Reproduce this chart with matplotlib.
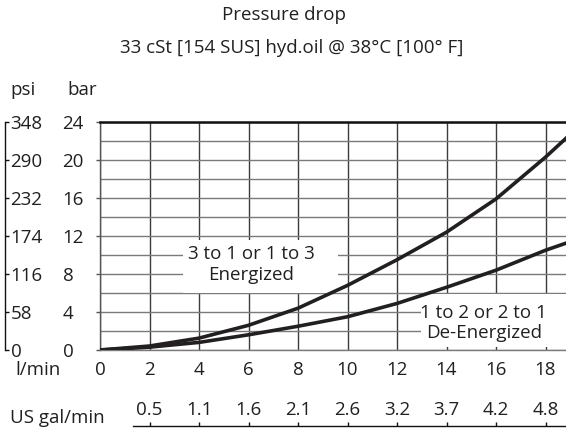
import numpy as np
import matplotlib
matplotlib.use('Agg')
import matplotlib.pyplot as plt
from matplotlib.patches import Rectangle

plt.rcParams['font.family'] = ['Open Sans', 'DejaVu Sans']

# 数据 (l/min -> bar)
flow = [0, 2, 4, 6, 8, 10, 12, 14, 16, 18, 19]
energized = [0, 0.42, 1.25, 2.6, 4.4, 6.8, 9.5, 12.4, 15.9, 20.3, 22.7]
de_energized = [0, 0.3, 0.8, 1.6, 2.5, 3.5, 4.9, 6.6, 8.4, 10.5, 11.4]

flow_ticks = [0, 2, 4, 6, 8, 10, 12, 14, 16, 18]
bar_ticks = [0, 4, 8, 12, 16, 20, 24]
psi_ticks = [0, 58, 116, 174, 232, 290, 348]
gal_pos = [2, 4, 6, 8, 10, 12, 14, 16, 18]
gal_labels = ['0.5', '1.1', '1.6', '2.1', '2.6', '3.2', '3.7', '4.2', '4.8']

W, H = 566, 430
txt = '#231f20'
fs = 13.5
xmax = (566 - 100) / 24.75


def fx(px):
    return px / W


def fy(py):
    return 1 - py / H


fig = plt.figure(figsize=(W / 100, H / 100), dpi=100)

# 主图
ax = fig.add_axes([fx(100), fy(350), fx(466), 228 / H])
ax.set_xlim(0, xmax)
ax.set_ylim(0, 24)
ax.set_axisbelow(True)

ax.set_xticks(flow_ticks)
ax.set_xticklabels([str(v) for v in flow_ticks])
ax.set_yticks(bar_ticks)
ax.set_yticklabels([str(v) for v in bar_ticks])
ax.set_yticks(np.arange(0, 25, 2), minor=True)
ax.tick_params(axis='x', length=0, pad=8, labelsize=fs, labelcolor=txt)
ax.tick_params(axis='y', which='major', length=3, width=1, color='#555555',
               pad=24, labelsize=fs, labelcolor=txt)
ax.tick_params(axis='y', which='minor', length=0)
for lbl in ax.get_yticklabels():
    lbl.set_ha('left')

ax.xaxis.grid(True, color='#3c3c3c', lw=1.0)
ax.yaxis.grid(True, which='both', color='#7a7a7a', lw=1.0)

ax.spines['right'].set_visible(False)
ax.spines['top'].set_color('#111111')
ax.spines['top'].set_linewidth(1.8)
ax.spines['left'].set_color('#555555')
ax.spines['left'].set_linewidth(1.0)
ax.spines['bottom'].set_color('#7a7a7a')
ax.spines['bottom'].set_linewidth(1.0)

# 标注底色
ax.add_patch(Rectangle((3.35, 5.95), 6.25, 5.65, fc='white', ec='none', zorder=2))
ax.add_patch(Rectangle((12.97, 0.3), 7.0, 5.6, fc='white', ec='none', zorder=2))

ax.plot(flow, energized, color=txt, lw=2.6, zorder=4, solid_capstyle='round')
ax.plot(flow, de_energized, color=txt, lw=2.6, zorder=4, solid_capstyle='round')

ax.text(6.1, 9.0, '3 to 1 or 1 to 3\nEnergized', ha='center', va='center',
        fontsize=fs, color=txt, linespacing=1.15, zorder=5)
ax.text(15.5, 2.85, '1 to 2 or 2 to 1\nDe-Energized', ha='center', va='center',
        fontsize=fs, color=txt, linespacing=1.15, zorder=5)

# psi 轴
axp = fig.add_axes([fx(5), fy(350), 0.0001, 228 / H])
axp.set_ylim(0, 348)
axp.set_yticks(psi_ticks)
axp.set_yticklabels([str(v) for v in psi_ticks])
axp.yaxis.set_ticks_position('right')
axp.tick_params(axis='y', direction='out', length=3, width=1, color='#111111',
                pad=1, labelsize=fs, labelcolor=txt)
axp.set_xticks([])
for s in ['left', 'top', 'bottom']:
    axp.spines[s].set_visible(False)
axp.spines['right'].set_color('#111111')
axp.spines['right'].set_linewidth(1.0)

# US gal/min 轴
axg = fig.add_axes([fx(100), fy(425.7), fx(466), 0.0001])
axg.set_xlim(0, xmax)
axg.set_yticks([])
axg.set_xticks(gal_pos)
axg.set_xticklabels(gal_labels)
axg.xaxis.set_ticks_position('top')
axg.tick_params(axis='x', direction='out', length=3, width=1, color='#111111',
                pad=2, labelsize=fs, labelcolor=txt)
for s in ['left', 'right', 'bottom']:
    axg.spines[s].set_visible(False)
axg.spines['top'].set_bounds(1.35, xmax)
axg.spines['top'].set_color('#111111')
axg.spines['top'].set_linewidth(1.0)

# 文字
fig.text(fx(284), fy(15), 'Pressure drop', ha='center', va='center', fontsize=fs, color=txt)
fig.text(fx(292), fy(48), '33 cSt [154 SUS] hyd.oil @ 38°C [100° F]', ha='center',
         va='center', fontsize=fs, color=txt)
fig.text(fx(10), fy(90), 'psi', ha='left', va='center', fontsize=fs, color=txt)
fig.text(fx(67), fy(90), 'bar', ha='left', va='center', fontsize=fs, color=txt)
fig.text(fx(15), fy(370), 'l/min', ha='left', va='center', fontsize=fs, color=txt)
fig.text(fx(10), fy(418), 'US gal/min', ha='left', va='center', fontsize=fs, color=txt)

fig.savefig('out.png', dpi=100)
